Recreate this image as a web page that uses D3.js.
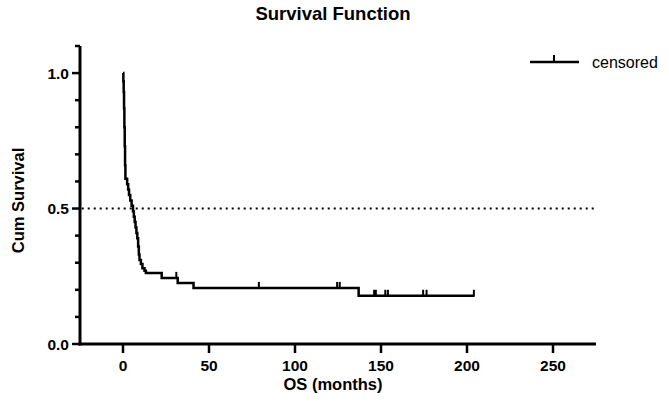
<!DOCTYPE html>
<html>
<head>
<meta charset="utf-8">
<script src="https://cdn.jsdelivr.net/npm/d3@7"></script>
<style>
  html, body { margin: 0; padding: 0; background: #fff; }
  svg { display: block; }
  text { font-family: "Liberation Sans", Arial, Helvetica, sans-serif; fill: #000; }
</style>
</head>
<body>
<div id="chart"></div>
<script>
// Kaplan-Meier steps: time (months) and survival after the event
const stepTimes = [0, 0.2, 0.4, 0.6, 0.8, 1.0, 1.2, 1.4, 2.4, 3.0, 3.5, 4.2, 5.0, 5.8,
  6.3, 6.8, 7.3, 7.8, 8.3, 8.8, 9.2, 9.6, 10.4, 11.3, 12.5, 13.3, 22.5, 31.8, 41, 137, 204];
const stepSurv = [1.0, 0.97, 0.93, 0.87, 0.80, 0.73, 0.66, 0.61, 0.59, 0.57, 0.55, 0.53, 0.51, 0.49,
  0.47, 0.45, 0.43, 0.41, 0.39, 0.36, 0.33, 0.31, 0.295, 0.28, 0.27, 0.262, 0.244, 0.225, 0.207, 0.178, 0.178];
// censored observations (months)
const censorTimes = [31, 79, 124.5, 126, 146, 147, 152.5, 154, 174.5, 176.5, 204];

const xTicks = [0, 50, 100, 150, 200, 250];
const yMajor = [0, 0.5, 1.0];
const yMinor = [0.1, 0.2, 0.3, 0.4, 0.6, 0.7, 0.8, 0.9, 1.1];

const W = 669, H = 406;
const svg = d3.select('#chart').append('svg').attr('width', W).attr('height', H);

const x = d3.scaleLinear().domain([-25, 275]).range([80, 596]);
const y = d3.scaleLinear().domain([0, 1.1]).range([344, 46]);

// 0.5 reference line
svg.append('line')
  .attr('x1', x(-24)).attr('x2', x(274))
  .attr('y1', y(0.5)).attr('y2', y(0.5))
  .attr('stroke', '#000').attr('stroke-width', 2)
  .attr('stroke-dasharray', '2,4');

// survival curve
const pts = stepTimes.map((t, i) => [t, stepSurv[i]]);
svg.append('path').datum(pts)
  .attr('d', d3.line().x(d => x(d[0])).y(d => y(d[1])).curve(d3.curveStepAfter))
  .attr('fill', 'none').attr('stroke', '#000').attr('stroke-width', 2.5)
  .attr('stroke-linejoin', 'miter');

// survival value at time t (step function)
function survAt(t) {
  let s = 1;
  stepTimes.forEach((st, i) => { if (st <= t) s = stepSurv[i]; });
  return s;
}

// censor marks
svg.selectAll('.cens').data(censorTimes).enter().append('line')
  .attr('class', 'cens')
  .attr('x1', d => x(d)).attr('x2', d => x(d))
  .attr('y1', d => y(survAt(d)) + 1).attr('y2', d => y(survAt(d)) - 6)
  .attr('stroke', '#000').attr('stroke-width', 2);

// axes
svg.append('line').attr('x1', x(-25)).attr('x2', x(-25))
  .attr('y1', y(1.1)).attr('y2', y(0) + 1.5)
  .attr('stroke', '#000').attr('stroke-width', 3);
svg.append('line').attr('x1', x(-25) - 1.5).attr('x2', x(275))
  .attr('y1', y(0)).attr('y2', y(0))
  .attr('stroke', '#000').attr('stroke-width', 3);

// y ticks
svg.selectAll('.ymaj').data(yMajor).enter().append('line')
  .attr('x1', x(-25) - 8).attr('x2', x(-25))
  .attr('y1', d => y(d)).attr('y2', d => y(d))
  .attr('stroke', '#000').attr('stroke-width', 2.5);
svg.selectAll('.ymin').data(yMinor).enter().append('line')
  .attr('x1', x(-25) - 5).attr('x2', x(-25))
  .attr('y1', d => y(d)).attr('y2', d => y(d))
  .attr('stroke', '#000').attr('stroke-width', 2.5);
svg.selectAll('.ylab').data(yMajor).enter().append('text')
  .attr('x', x(-25) - 11).attr('y', d => y(d) + 5.5)
  .attr('text-anchor', 'end')
  .attr('font-size', 15.5).attr('font-weight', 'bold')
  .text(d => d.toFixed(1));

// x ticks
svg.selectAll('.xt').data(xTicks).enter().append('line')
  .attr('x1', d => x(d)).attr('x2', d => x(d))
  .attr('y1', y(0)).attr('y2', y(0) + 9)
  .attr('stroke', '#000').attr('stroke-width', 2.5);
svg.selectAll('.xlab').data(xTicks).enter().append('text')
  .attr('x', d => x(d)).attr('y', y(0) + 27)
  .attr('text-anchor', 'middle')
  .attr('font-size', 15.5).attr('font-weight', 'bold')
  .text(d => d);

// titles
svg.append('text').attr('x', 333).attr('y', 20)
  .attr('text-anchor', 'middle').attr('font-size', 18.5).attr('font-weight', 'bold')
  .text('Survival Function');
svg.append('text').attr('x', 333).attr('y', 390)
  .attr('text-anchor', 'middle').attr('font-size', 16.5).attr('font-weight', 'bold')
  .text('OS (months)');
svg.append('text')
  .attr('transform', `translate(24,${y(0.53)}) rotate(-90)`)
  .attr('text-anchor', 'middle').attr('font-size', 16.5).attr('font-weight', 'bold')
  .text('Cum  Survival');

// legend
svg.append('line').attr('x1', 530).attr('x2', 579).attr('y1', 62).attr('y2', 62)
  .attr('stroke', '#000').attr('stroke-width', 2.5);
svg.append('line').attr('x1', 554).attr('x2', 554).attr('y1', 62).attr('y2', 55)
  .attr('stroke', '#000').attr('stroke-width', 2);
svg.append('text').attr('x', 592).attr('y', 68)
  .attr('font-size', 16)
  .text('censored');
</script>
</body>
</html>
